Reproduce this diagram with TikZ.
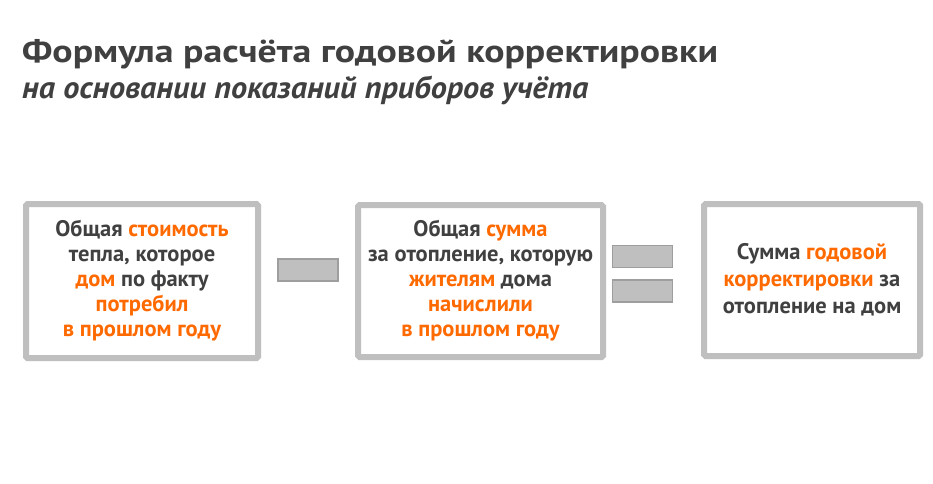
\documentclass[tikz,border=0pt]{standalone}
\usepackage{fontspec}
\setmainfont{PT Sans}
\newfontfamily\boxfont[FakeStretch=1.0]{PT Sans}
\newfontfamily\titlefont[FakeStretch=1.18]{PT Sans}
\newfontfamily\subfont[FakeStretch=1.04]{PT Sans}
\definecolor{txt}{HTML}{404040}
\definecolor{org}{HTML}{FF6A00}
\definecolor{brd}{HTML}{BFBFBF}
\definecolor{opb}{HTML}{9E9E9E}
\newcommand{\hl}[1]{\textcolor{org}{#1}}
\begin{document}
\begin{tikzpicture}[x=1pt,y=-1pt,
  box/.style={draw=brd, line width=6pt, rounded corners=1.5pt, fill=white, align=center,
    text=txt, font={\boxfont\bfseries\fontsize{22.5}{25}\selectfont}, inner sep=0pt},
  opbar/.style={draw=opb, line width=1.8pt, fill=brd, minimum width=60pt, minimum height=22pt, inner sep=0pt},
  title/.style={anchor=base west, text=txt, inner sep=0pt}]
\useasboundingbox (0,0) rectangle (933,483);
\fill[white] (0,0) rectangle (933,483);
\node[title, font={\titlefont\bfseries\fontsize{32}{32}\selectfont}] (t) at (22,62) {Формула расчёта годовой корректировки};
\node[title, font={\subfont\bfseries\itshape\fontsize{31}{31}\selectfont}] (s) at (22,98) {на основании показаний приборов учёта};
\node[box, minimum width=232pt, minimum height=154pt] (b1) at (142,281)
  {Общая \hl{стоимость}\\тепла, которое\\\hl{дом} по факту\\\hl{потребил}\\\hl{в прошлом году}};
\node[box, minimum width=245pt, minimum height=152pt] (b2) at (480.5,281)
  {Общая \hl{сумма}\\за отопление, которую\\\hl{жителям} дома\\\hl{начислили}\\\hl{в прошлом году}};
\node[box, minimum width=216pt, minimum height=152pt, font={\boxfont\bfseries\fontsize{22.5}{27}\selectfont}] (b3) at (812,280)
  {Сумма \hl{годовой}\\\hl{корректировки} за\\отопление на дом};
\node[opbar] (minus) at (308,270) {};
\node[opbar] (eqa) at (642.5,256.5) {};
\node[opbar] (eqb) at (642.5,291) {};
\end{tikzpicture}
\end{document}
